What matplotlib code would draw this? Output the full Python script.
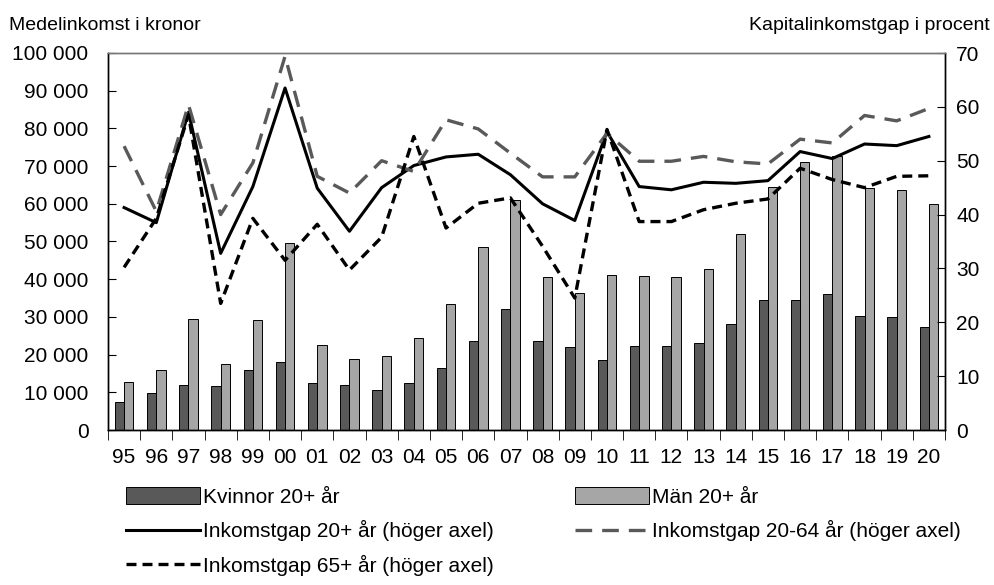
import numpy as np
import matplotlib
matplotlib.use("Agg")
import matplotlib.pyplot as plt
from matplotlib.ticker import FuncFormatter, MultipleLocator

plt.rcParams['font.family'] = ['Liberation Sans', 'DejaVu Sans']

years = ['95', '96', '97', '98', '99', '00', '01', '02', '03', '04', '05', '06', '07',
         '08', '09', '10', '11', '12', '13', '14', '15', '16', '17', '18', '19', '20']

# medelinkomst i kronor (vänster axel)
kvinnor = [7500, 9700, 12000, 11600, 15900, 18000, 12400, 11850, 10700, 12400, 16500, 23500, 32000,
           23500, 22100, 18500, 22400, 22400, 23000, 28100, 34500, 34400, 36000, 30150, 30050, 27300]
man = [12650, 15800, 29400, 17400, 29100, 49700, 22500, 18750, 19600, 24500, 33500, 48450, 61000,
       40600, 36300, 41200, 40850, 40500, 42600, 52000, 64500, 71000, 72800, 64100, 63600, 59900]

# kapitalinkomstgap i procent (höger axel)
gap_20 = [41.3, 38.5, 59.0, 32.8, 45.2, 63.5, 44.9, 36.9, 45.0, 49.1, 50.7, 51.2, 47.4,
          42.0, 38.9, 55.4, 45.2, 44.6, 46.0, 45.8, 46.3, 51.7, 50.4, 53.1, 52.8, 54.5]
gap_20_64 = [52.7, 40.6, 60.4, 40.0, 49.6, 69.4, 47.1, 44.0, 50.0, 48.0, 57.6, 55.9, 51.4,
             47.0, 47.0, 55.1, 49.9, 49.9, 50.8, 49.8, 49.4, 54.0, 53.3, 58.4, 57.4, 59.7]
gap_65 = [30.2, 39.3, 58.5, 23.5, 39.3, 31.5, 38.2, 29.7, 35.8, 54.5, 37.5, 42.1, 43.1,
          34.1, 24.5, 55.8, 38.7, 38.7, 40.9, 42.1, 42.9, 48.6, 46.5, 45.0, 47.1, 47.2]

x = np.arange(len(years))
w = 0.29
fs = 15

fig = plt.figure(figsize=(9.94, 5.85), dpi=100)
ax = fig.add_axes([108/994, 1 - 430/585, (945-108)/994, (430-53)/585])
ax2 = ax.twinx()

b1 = ax.bar(x - w/2, kvinnor, w, color='#595959', edgecolor='black', linewidth=0.7,
            label='Kvinnor 20+ år')
b2 = ax.bar(x + w/2, man, w, color='#a6a6a6', edgecolor='black', linewidth=0.7,
            label='Män 20+ år')

l1, = ax2.plot(x, gap_20, color='black', lw=2.2, label='Inkomstgap 20+ år (höger axel)')
l2, = ax2.plot(x, gap_20_64, color='#595959', lw=2.4, dashes=(5, 3),
               label='Inkomstgap 20-64 år (höger axel)')
l3, = ax2.plot(x, gap_65, color='black', lw=2.4, dashes=(3, 1.8),
               label='Inkomstgap 65+ år (höger axel)')

ax.set_xlim(-0.5, len(years) - 0.5)
ax.set_ylim(0, 100000)
ax2.set_ylim(0, 70)
ax.yaxis.set_major_locator(MultipleLocator(10000))
ax2.yaxis.set_major_locator(MultipleLocator(10))
ax.yaxis.set_major_formatter(FuncFormatter(lambda v, p: f"{int(v):,}".replace(",", " ")))

ax.set_xticks(x)
ax.set_xticklabels(years)
ax.set_xticks(np.arange(-0.5, len(years), 1), minor=True)
ax.tick_params(axis='x', which='major', length=0, labelsize=fs, pad=13)
ax.tick_params(axis='x', which='minor', length=7, direction='out', color='black')
ax.tick_params(axis='y', direction='in', length=6, labelsize=fs, pad=14)
ax2.tick_params(axis='y', direction='in', length=6, labelsize=fs, pad=8)

for a in (ax, ax2):
    for s in a.spines.values():
        s.set_color('black')
        s.set_linewidth(1)
    a.spines['top'].set_color('#777777')

fig.text(9/994, 1 - 30/585, 'Medelinkomst i kronor', fontsize=14, va='baseline', ha='left')
fig.text(990/994, 1 - 30/585, 'Kapitalinkomstgap i procent', fontsize=14, va='baseline', ha='right')

handles = [b1, l1, l3, b2, l2]
labels = [h.get_label() for h in handles]
fig.legend(handles, labels, ncol=2, loc='upper left', bbox_to_anchor=(126/994, 1 - 487/585),
           frameon=False, fontsize=fs, handlelength=3.55, handleheight=0.87, handletextpad=0.15,
           columnspacing=3.9, labelspacing=0.66, borderpad=0, borderaxespad=0)

fig.savefig('out.png', dpi=100, facecolor='white')
